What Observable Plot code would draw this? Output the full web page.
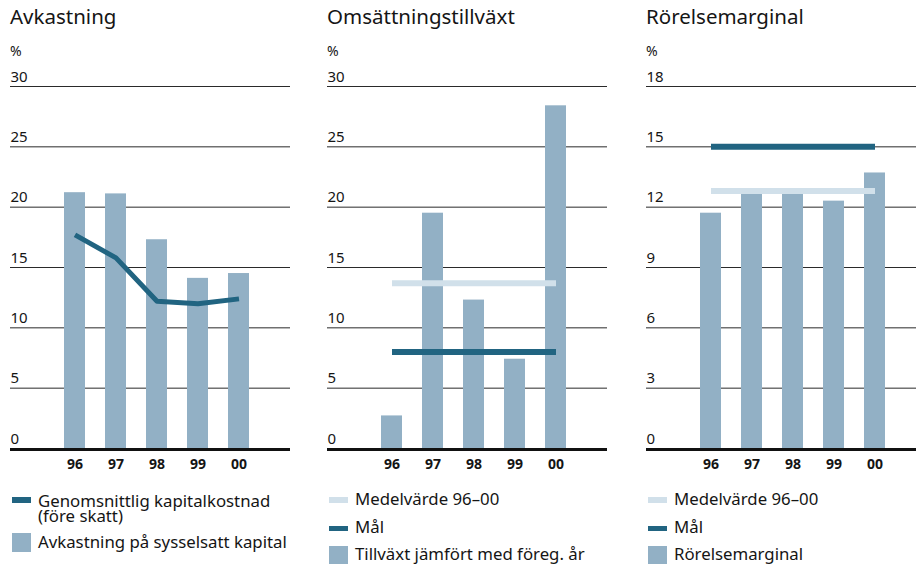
<!DOCTYPE html>
<html><head><meta charset="utf-8">
<script src="https://cdn.jsdelivr.net/npm/d3@7"></script>
<script src="https://cdn.jsdelivr.net/npm/@observablehq/plot@0.6"></script>
<style>
body{margin:0;width:916px;height:566px;overflow:hidden;background:#fff;font-family:"Noto Sans",sans-serif;color:#151515;position:relative}
.panel{position:absolute;top:0;width:290px;height:566px}
.title{position:absolute;left:0;top:4px;font-size:20.5px;line-height:24px;white-space:nowrap}
.unit{position:absolute;left:0;top:44px;font-size:14px;line-height:14px}
.chart{position:absolute;left:0;top:60px}
.leg{position:absolute;left:28px;font-size:16.8px;line-height:15.5px;white-space:nowrap}
.sw{position:absolute;left:1.5px;width:19px}
</style></head><body>
<script>
const years = ["96","97","98","99","00"];
const avkastning = [21.2, 21.1, 17.3, 14.1, 14.5];
const kapitalkostnad = [17.7, 15.8, 12.2, 12.0, 12.4];
const tillvaxt = [2.7, 19.5, 12.3, 7.4, 28.4];
const tillvaxtMedel = 13.7;
const tillvaxtMal = 8.0;
const rorelsemarginal = [11.7, 12.7, 12.7, 12.3, 13.7];
const rorelseMedel = 12.8;
const rorelseMal = 15.0;
const ticks30 = [0, 5, 10, 15, 20, 25, 30];
const ticks18 = [0, 3, 6, 9, 12, 15, 18];
const titles = ["Avkastning", "Omsättningstillväxt", "Rörelsemarginal"];
const lefts = [10, 327, 646];

const BAR = "#92b0c5", DARK = "#216481", LIGHT = "#d1e0ea", GRID = "#2a2a2a";

function chart(values, ticks, extras) {
  const data = years.map((y, i) => ({year: y, value: values[i]}));
  const marks = [
    Plot.ruleY(ticks.slice(1), {stroke: GRID, strokeWidth: 1}),
    Plot.barY(data, {x: "year", y: "value", fill: BAR}),
    ...extras,
    Plot.ruleY([0], {stroke: "#111", strokeWidth: 3, dy: 1}),
    Plot.axisY(ticks, {tickSize: 0, tickPadding: 0, textAnchor: "start", lineAnchor: "bottom", dy: -5, fontSize: 15, label: null, fill: "#151515"}),
    Plot.axisX({tickSize: 0, tickPadding: 11, fontSize: 14, fontWeight: "bold", label: null, fill: "#151515"})
  ];
  return Plot.plot({
    width: 280, height: 418,
    marginLeft: 0, marginRight: 0, marginTop: 26, marginBottom: 30,
    style: {fontFamily: "'Noto Sans', sans-serif", fontSize: "14px", overflow: "visible", background: "transparent"},
    x: {type: "band", domain: years, paddingInner: 0.49, paddingOuter: 0, insetLeft: 53.5, insetRight: 40, label: null},
    y: {domain: [0, ticks[ticks.length - 1]], label: null},
    marks
  });
}

function refLine(v, color) {
  const d = [{year: years[0], value: v}, {year: years[years.length - 1], value: v}];
  return Plot.lineY(d, {x: "year", y: "value", stroke: color, strokeWidth: 6, strokeLinecap: "butt"});
}

const charts = [
  chart(avkastning, ticks30, [
    Plot.lineY(years.map((y, i) => ({year: y, value: kapitalkostnad[i]})), {x: "year", y: "value", stroke: DARK, strokeWidth: 5, strokeLinecap: "butt", strokeLinejoin: "round"})
  ]),
  chart(tillvaxt, ticks30, [refLine(tillvaxtMedel, LIGHT), refLine(tillvaxtMal, DARK)]),
  chart(rorelsemarginal, ticks18, [refLine(rorelseMedel, LIGHT), refLine(rorelseMal, DARK)])
];

const legends = [
  [
    {color: DARK, swTop: 497, swH: 5.5, text: "Genomsnittlig kapitalkostnad<br>(före skatt)", baseline: 506.7},
    {color: BAR, swTop: 533, swH: 19, text: "Avkastning på sysselsatt kapital", baseline: 548.3}
  ],
  [
    {color: LIGHT, swTop: 497, swH: 5.5, text: "Medelvärde 96–00", baseline: 505},
    {color: DARK, swTop: 525.5, swH: 5, text: "Mål", baseline: 533.3},
    {color: BAR, swTop: 545.5, swH: 18, text: "Tillväxt jämfört med föreg. år", baseline: 560}
  ],
  [
    {color: LIGHT, swTop: 497, swH: 5.5, text: "Medelvärde 96–00", baseline: 505},
    {color: DARK, swTop: 525.5, swH: 5, text: "Mål", baseline: 533.3},
    {color: BAR, swTop: 545.5, swH: 18, text: "Rörelsemarginal", baseline: 560}
  ]
];

for (let p = 0; p < 3; p++) {
  const panel = document.createElement("div");
  panel.className = "panel";
  panel.style.left = lefts[p] + "px";
  const t = document.createElement("div"); t.className = "title"; t.textContent = titles[p]; panel.appendChild(t);
  const u = document.createElement("div"); u.className = "unit"; u.textContent = "%"; panel.appendChild(u);
  const c = document.createElement("div"); c.className = "chart"; c.appendChild(charts[p]); panel.appendChild(c);
  for (const it of legends[p]) {
    const s = document.createElement("div"); s.className = "sw";
    s.style.top = it.swTop + "px"; s.style.height = it.swH + "px"; s.style.background = it.color;
    panel.appendChild(s);
    const l = document.createElement("div"); l.className = "leg";
    l.style.top = (it.baseline - 14.2) + "px"; l.innerHTML = it.text;
    panel.appendChild(l);
  }
  document.body.appendChild(panel);
}
</script>
</body></html>
